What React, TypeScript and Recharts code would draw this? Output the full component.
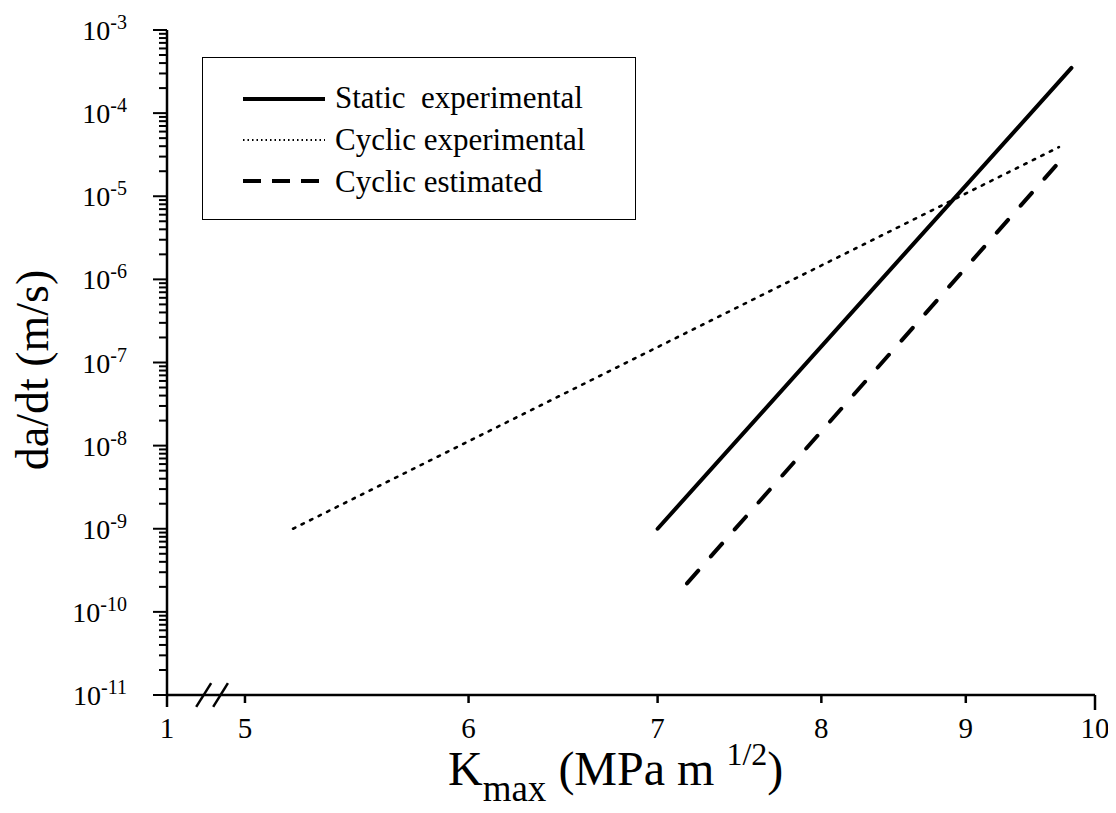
import React from 'react';
import { LineChart, Line, XAxis, YAxis, ReferenceLine } from 'recharts';

// K_max (MPa m^1/2) vs da/dt (m/s), end points
const staticExperimental = [
  { k: 7.0, v: 1.0e-9 },
  { k: 9.81, v: 3.5e-4 },
];
const cyclicExperimental = [
  { k: 5.2, v: 1.0e-9 },
  { k: 9.71, v: 3.9e-5 },
];
const cyclicEstimated = [
  { k: 7.17, v: 2.2e-10 },
  { k: 9.75, v: 3.0e-5 },
];

// x axis is broken: the "1" tick sits just left of 5
const xBreakStart = 4.692;
const xTicks = [xBreakStart, 5, 6, 7, 8, 9, 10];
const xTickLabels = ['1', '5', '6', '7', '8', '9', '10'];

const yDecades = [-11, -10, -9, -8, -7, -6, -5, -4, -3];
const yMinorSteps = [2, 3, 4, 5, 6, 7, 8, 9];
const yTicks: number[] = [];
yDecades.forEach((d, i) => {
  yTicks.push(Math.pow(10, d));
  if (i < yDecades.length - 1) yMinorSteps.forEach((m) => yTicks.push(m * Math.pow(10, d)));
});

// the two "//" break marks on the x axis
const breakMarks = [
  [{ x: 4.805, y: 7.2e-12 }, { x: 4.864, y: 1.39e-11 }],
  [{ x: 4.872, y: 7.2e-12 }, { x: 4.931, y: 1.39e-11 }],
];

const series = [
  { name: 'Static  experimental', data: staticExperimental, width: 4, dash: undefined as string | undefined, legendDash: undefined as string | undefined, legendWidth: 4 },
  { name: 'Cyclic experimental', data: cyclicExperimental, width: 2.6, dash: '2.5 7', legendDash: '1.5 3', legendWidth: 1.8 },
  { name: 'Cyclic estimated', data: cyclicEstimated, width: 4, dash: '17 19', legendDash: '18 11', legendWidth: 4 },
];

const FONT = '"Liberation Serif", "Times New Roman", serif';

function YTick(props: any) {
  const { x, y, payload } = props;
  const lg = Math.log10(payload.value);
  const e = Math.round(lg);
  const major = Math.abs(lg - e) < 1e-6;
  return (
    <g>
      <line x1={x - (major ? 14 : 8)} x2={x} y1={y} y2={y} stroke="#000" strokeWidth={2} />
      {major && (
        <text x={x - 40} y={y + 10} textAnchor="end" fontFamily={FONT} fontSize={28} fill="#000">
          10<tspan dy={-11} fontSize={20}>{String(e)}</tspan>
        </text>
      )}
    </g>
  );
}

function XTick(props: any) {
  const { x, y, payload } = props;
  const i = xTicks.indexOf(payload.value);
  const len = i === 0 ? 12 : i === xTicks.length - 1 ? 15 : 8;
  return (
    <g>
      <line x1={x} x2={x} y1={y} y2={y + len} stroke="#000" strokeWidth={2.5} />
      <text x={x} y={y + 43} textAnchor="middle" fontFamily={FONT} fontSize={29} fill="#000">
        {xTickLabels[i] ?? ''}
      </text>
    </g>
  );
}

function XLabel() {
  return (
    <text x={440} y={777} fontFamily={FONT} fontSize={48} fill="#000">
      K<tspan dy={16} fontSize={37}>max</tspan>
      <tspan dy={-16}> (MPa m </tspan>
      <tspan dy={-20} fontSize={32}>1/2</tspan>
      <tspan dy={20}>)</tspan>
    </text>
  );
}

function YLabel() {
  return (
    <text x={40} y={362} textAnchor="middle" transform="rotate(-90, 40, 362)" fontFamily={FONT} fontSize={46} fill="#000">
      da/dt (m/s)
    </text>
  );
}

function LegendBox() {
  return (
    <div style={{ position: 'absolute', left: 194, top: 49, width: 434, height: 163, border: '1.5px solid #000', boxSizing: 'border-box', background: '#fff' }}>
      <svg width={431} height={160}>
        {series.map((s, i) => (
          <g key={s.name}>
            <line x1={40} x2={122} y1={41 + i * 41} y2={41 + i * 41} stroke="#000" strokeWidth={s.legendWidth} strokeDasharray={s.legendDash} />
            <text x={132} y={50 + i * 42} fontFamily={FONT} fontSize={31} fill="#000" style={{ whiteSpace: 'pre' }}>
              {s.name}
            </text>
          </g>
        ))}
      </svg>
    </div>
  );
}

export default function App() {
  return (
    <div style={{ position: 'relative', width: 1100, height: 805, background: '#fff' }}>
      <LineChart width={1100} height={805} margin={{ top: 22, right: 13, bottom: 58, left: 0 }}>
        <XAxis
          dataKey="k"
          type="number"
          scale="log"
          domain={[xBreakStart, 10]}
          allowDataOverflow
          ticks={xTicks}
          interval={0}
          tick={<XTick />}
          tickSize={0}
          tickMargin={0}
          height={60}
          axisLine={{ stroke: '#000', strokeWidth: 2.5 }}
          tickLine={false}
          label={{ content: () => <XLabel /> }}
        />
        <YAxis
          type="number"
          scale="log"
          domain={[1e-11, 1e-3]}
          allowDataOverflow
          ticks={yTicks}
          interval={0}
          tick={<YTick />}
          tickSize={0}
          tickMargin={0}
          width={159}
          axisLine={{ stroke: '#000', strokeWidth: 2.5 }}
          tickLine={false}
          label={{ content: () => <YLabel /> }}
        />
        {breakMarks.map((seg, i) => (
          <ReferenceLine key={i} segment={seg} stroke="#000" strokeWidth={2.5} ifOverflow="visible" />
        ))}
        {series.map((s) => (
          <Line
            key={s.name}
            data={s.data}
            dataKey="v"
            name={s.name}
            type="linear"
            stroke="#000"
            strokeWidth={s.width}
            strokeDasharray={s.dash}
            strokeLinecap="round"
            dot={false}
            activeDot={false}
            isAnimationActive={false}
          />
        ))}
      </LineChart>
      <LegendBox />
    </div>
  );
}
